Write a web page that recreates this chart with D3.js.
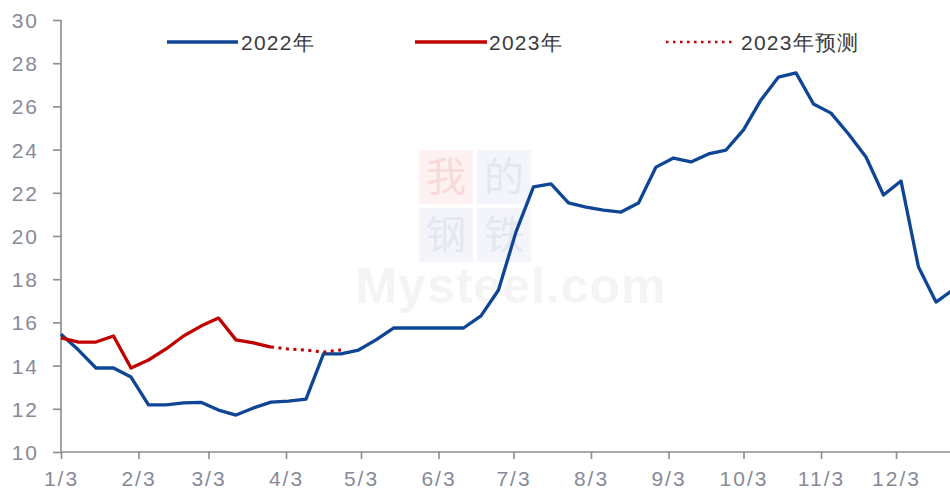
<!DOCTYPE html>
<html>
<head>
<meta charset="utf-8">
<script src="https://cdn.jsdelivr.net/npm/d3@7/dist/d3.min.js"></script>
<style>
  html, body { margin: 0; padding: 0; background: #fff; }
  svg { display: block; font-family: "Liberation Sans", Arial, sans-serif; }
</style>
</head>
<body>
<svg id="chart" width="950" height="493"></svg>
<script>
// Weekly series, one value per week starting on 3 January
const series2022 = [15.45, 14.72, 13.89, 13.89, 13.47, 12.18, 12.18, 12.27, 12.30, 11.94,
  11.71, 12.04, 12.31, 12.36, 12.45, 14.54, 14.54, 14.72, 15.19, 15.74,
  15.74, 15.74, 15.74, 15.74, 16.30, 17.50, 20.19, 22.27, 22.41, 21.53,
  21.34, 21.20, 21.11, 21.53, 23.19, 23.61, 23.43, 23.80, 23.98, 24.91,
  26.30, 27.36, 27.55, 26.11, 25.69, 24.72, 23.66, 21.90, 22.55, 18.56,
  16.94, 17.52];
const series2023 = [15.28, 15.09, 15.09, 15.37, 13.89, 14.26, 14.77, 15.37, 15.83, 16.20,
  15.19, 15.05, 14.86];
// forecast continues from the last actual 2023 week (week index 12)
const forecastStartWeek = 12;
const forecast2023 = [14.86, 14.77, 14.72, 14.63, 14.72];

const tickLabels = ["1/3", "2/3", "3/3", "4/3", "5/3", "6/3", "7/3", "8/3", "9/3", "10/3", "11/3", "12/3"];
const yTicks = [10, 12, 14, 16, 18, 20, 22, 24, 26, 28, 30];
const legendNames = ["2022年", "2023年", "2023年预测"];

const colors = { y2022: "#0f4595", y2023: "#c00000" };

const svg = d3.select("#chart");
const plotLeft = 61, plotTop = 20, plotBottom = 452;

const start = new Date(2022, 0, 3);
const end = new Date(2022, 11, 31);
const dayCount = d3.timeDay.count(start, end);
const x = d3.scaleTime().domain([start, end]).range([plotLeft, plotLeft + dayCount * 2.5]);
const y = d3.scaleLinear().domain([10, 30]).range([plotBottom, plotTop]);

const weekDate = i => d3.timeDay.offset(start, 7 * i);
const tickDates = tickLabels.map(s => {
  const [m, d] = s.split("/").map(Number);
  return new Date(2022, m - 1, d);
});

// faint watermark behind the plot
const wm = svg.append("g").attr("class", "watermark");
const wmChars = [
  { c: "我", dx: 0, dy: 0, fill: "#fdf1f1", ink: "#f8dada" },
  { c: "的", dx: 1, dy: 0, fill: "#f3f5fa", ink: "#e3e7f2" },
  { c: "钢", dx: 0, dy: 1, fill: "#f3f5fa", ink: "#e3e7f2" },
  { c: "铁", dx: 1, dy: 1, fill: "#f3f5fa", ink: "#e3e7f2" }
];
wmChars.forEach(w => {
  const bx = 419 + w.dx * 58, by = 150 + w.dy * 58;
  wm.append("rect").attr("x", bx).attr("y", by).attr("width", 54).attr("height", 54).attr("fill", w.fill);
  wm.append("text").attr("x", bx + 27).attr("y", by + 41).attr("text-anchor", "middle")
    .attr("font-family", "'Noto Sans CJK SC', sans-serif").attr("font-size", 40)
    .attr("fill", w.ink).text(w.c);
});
wm.append("text").attr("x", 511).attr("y", 303).attr("text-anchor", "middle")
  .attr("font-family", "'Liberation Sans', Arial, sans-serif").attr("font-weight", "bold")
  .attr("font-size", 50).attr("letter-spacing", "1px").attr("fill", "#f4f4f4").text("Mysteel.com");

// axes
const axisColor = "#8c8c8c";
const labelColor = "#878a96";

const yAxis = svg.append("g").attr("transform", `translate(${plotLeft},0)`)
  .call(d3.axisLeft(y).tickValues(yTicks).tickSize(8).tickPadding(14).tickFormat(d3.format("d")));
const xAxis = svg.append("g").attr("transform", `translate(0,${plotBottom})`)
  .call(d3.axisBottom(x).tickValues(tickDates).tickSize(7).tickPadding(12)
    .tickFormat((d, i) => tickLabels[i]));

[yAxis, xAxis].forEach(g => {
  g.select(".domain").attr("stroke", axisColor).attr("stroke-width", 1.6);
  g.selectAll(".tick line").attr("stroke", axisColor).attr("stroke-width", 1.6);
  g.selectAll(".tick text").attr("fill", labelColor).attr("font-size", 21)
    .attr("font-family", "'Liberation Sans', Arial, sans-serif").attr("letter-spacing", "2px");
});
xAxis.select(".domain").attr("d", `M${plotLeft},0H950`);
yAxis.select(".domain").attr("d", `M0,${plotTop}V${plotBottom}`);
yAxis.selectAll(".tick text").attr("dy", "0.36em");

// lines
const line = d3.line().x(d => x(d.date)).y(d => y(d.v));
const pts2022 = series2022.map((v, i) => ({ date: weekDate(i), v }));
const pts2023 = series2023.map((v, i) => ({ date: weekDate(i), v }));
const ptsFc = forecast2023.map((v, i) => ({ date: weekDate(forecastStartWeek + i), v }));

svg.append("path").datum(pts2022).attr("d", line).attr("fill", "none")
  .attr("stroke", colors.y2022).attr("stroke-width", 3.3).attr("stroke-linejoin", "round");
svg.append("path").datum(ptsFc).attr("d", line).attr("fill", "none")
  .attr("stroke", colors.y2023).attr("stroke-width", 3).attr("stroke-dasharray", "3,4.5");
svg.append("path").datum(pts2023).attr("d", line).attr("fill", "none")
  .attr("stroke", colors.y2023).attr("stroke-width", 3.3).attr("stroke-linejoin", "round");

// legend
const legend = svg.append("g");
const legendItems = [
  { name: legendNames[0], x0: 167, x1: 238, tx: 241, color: colors.y2022, dash: null },
  { name: legendNames[1], x0: 415, x1: 487, tx: 489, color: colors.y2023, dash: null },
  { name: legendNames[2], x0: 666, x1: 736, tx: 741, color: colors.y2023, dash: "2.5,4.5" }
];
legendItems.forEach(it => {
  legend.append("line").attr("x1", it.x0).attr("x2", it.x1).attr("y1", 42).attr("y2", 42)
    .attr("stroke", it.color).attr("stroke-width", it.dash ? 2.6 : 3.3)
    .attr("stroke-dasharray", it.dash);
  legend.append("text").attr("x", it.tx).attr("y", 50).attr("font-size", 21)
    .attr("fill", "#3a3a3a").attr("letter-spacing", "1.2px").text(it.name);
});
</script>
</body>
</html>
